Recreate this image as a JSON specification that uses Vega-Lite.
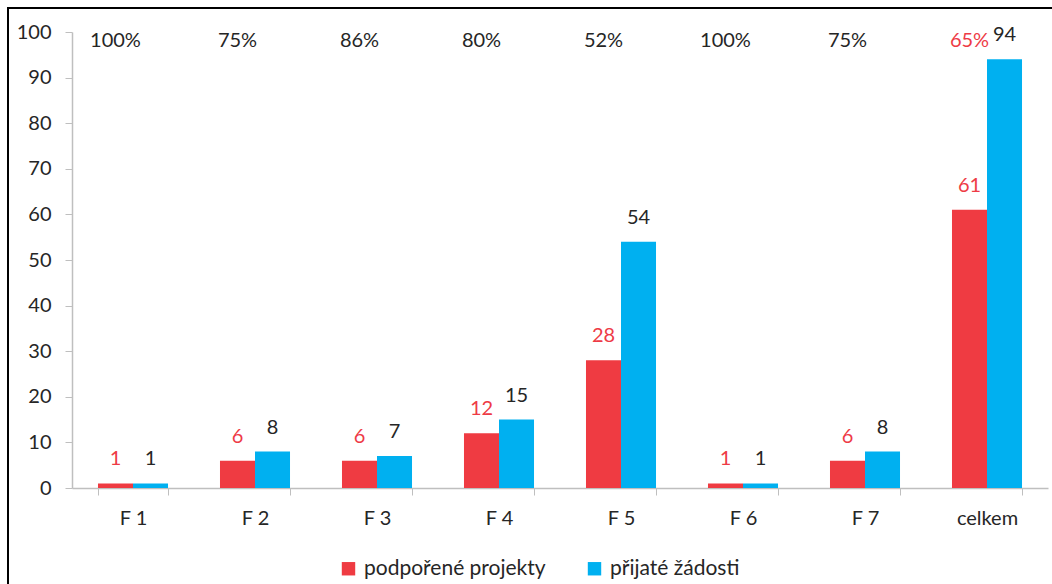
{
  "$schema": "https://vega.github.io/schema/vega-lite/v6.json",
  "width": 1044,
  "height": 576,
  "autosize": {"type": "none"},
  "padding": {"left": 8, "top": 8, "right": 0, "bottom": 0},
  "background": "white",
  "config": {
    "view": {"stroke": "#000000", "strokeWidth": 2, "strokeDash": [1044, 1620, 576, 10]},
    "font": "Lato",
    "axis": {"grid": false, "title": null, "domainColor": "#BFBFBF", "tickColor": "#BFBFBF", "labelColor": "#262626", "labelFontSize": 20, "labelFont": "Lato"},
    "legend": {"labelFont": "Lato"}
  },
  "datasets": {
    "bars": [
      {"category": "F 1", "series": "podpořené projekty", "value": 1},
      {"category": "F 1", "series": "přijaté žádosti", "value": 1},
      {"category": "F 2", "series": "podpořené projekty", "value": 6},
      {"category": "F 2", "series": "přijaté žádosti", "value": 8},
      {"category": "F 3", "series": "podpořené projekty", "value": 6},
      {"category": "F 3", "series": "přijaté žádosti", "value": 7},
      {"category": "F 4", "series": "podpořené projekty", "value": 12},
      {"category": "F 4", "series": "přijaté žádosti", "value": 15},
      {"category": "F 5", "series": "podpořené projekty", "value": 28},
      {"category": "F 5", "series": "přijaté žádosti", "value": 54},
      {"category": "F 6", "series": "podpořené projekty", "value": 1},
      {"category": "F 6", "series": "přijaté žádosti", "value": 1},
      {"category": "F 7", "series": "podpořené projekty", "value": 6},
      {"category": "F 7", "series": "přijaté žádosti", "value": 8},
      {"category": "celkem", "series": "podpořené projekty", "value": 61},
      {"category": "celkem", "series": "přijaté žádosti", "value": 94}
    ],
    "pcts": [
      {"category": "F 1", "pct": "100%"},
      {"category": "F 2", "pct": "75%"},
      {"category": "F 3", "pct": "86%"},
      {"category": "F 4", "pct": "80%"},
      {"category": "F 5", "pct": "52%"},
      {"category": "F 6", "pct": "100%"},
      {"category": "F 7", "pct": "75%"},
      {"category": "celkem", "pct": "65%"}
    ]
  },
  "layer": [
    {
      "data": {"name": "bars"},
      "mark": {"type": "bar"},
      "encoding": {
        "x": {
          "field": "category", "type": "nominal",
          "sort": ["F 1", "F 2", "F 3", "F 4", "F 5", "F 6", "F 7", "celkem"],
          "scale": {"range": [64, 1040], "paddingInner": 0.426, "paddingOuter": 0.213},
          "axis": {"orient": "bottom", "offset": -96, "labelAngle": 0, "tickBand": "extent", "tickSize": 7, "labelPadding": 13, "domainWidth": 1.5}
        },
        "xOffset": {
          "field": "series", "type": "nominal",
          "scale": {"domain": ["podpořené projekty", "přijaté žádosti"], "paddingInner": 0, "paddingOuter": 0}
        },
        "y": {
          "field": "value", "type": "quantitative",
          "scale": {"domain": [0, 100], "range": [480, 24], "nice": false, "zero": true},
          "axis": {"orient": "left", "offset": -64, "values": [0, 10, 20, 30, 40, 50, 60, 70, 80, 90, 100], "tickSize": 7, "labelPadding": 14, "domainWidth": 1.5}
        },
        "color": {
          "field": "series", "type": "nominal",
          "scale": {"domain": ["podpořené projekty", "přijaté žádosti"], "range": ["#EF3B42", "#00B0F0"]},
          "legend": {"orient": "none", "legendX": 330, "legendY": 550, "direction": "horizontal", "title": null, "symbolType": "square", "symbolSize": 180, "symbolStrokeWidth": 0, "labelFontSize": 21, "labelColor": "#262626", "labelLimit": 0, "columnPadding": 38, "labelOffset": 5}
        }
      }
    },
    {
      "data": {"name": "bars"},
      "mark": {"type": "text", "baseline": "middle", "align": "center", "dy": -24, "fontSize": 20, "font": "Lato"},
      "encoding": {
        "x": {"field": "category", "type": "nominal", "sort": ["F 1", "F 2", "F 3", "F 4", "F 5", "F 6", "F 7", "celkem"]},
        "xOffset": {"field": "series", "type": "nominal"},
        "y": {"field": "value", "type": "quantitative"},
        "text": {"field": "value", "type": "quantitative"},
        "color": {"condition": {"test": "datum.series === 'podpořené projekty'", "value": "#EE3B46"}, "value": "#262626"}
      }
    },
    {
      "data": {"name": "pcts"},
      "mark": {"type": "text", "baseline": "middle", "align": "center", "fontSize": 20, "font": "Lato"},
      "encoding": {
        "x": {"field": "category", "type": "nominal", "sort": ["F 1", "F 2", "F 3", "F 4", "F 5", "F 6", "F 7", "celkem"]},
        "xOffset": {"datum": "podpořené projekty"},
        "y": {"datum": 98},
        "text": {"field": "pct", "type": "nominal"},
        "color": {"condition": {"test": "datum.category === 'celkem'", "value": "#EE3B46"}, "value": "#262626"}
      }
    }
  ]
}
